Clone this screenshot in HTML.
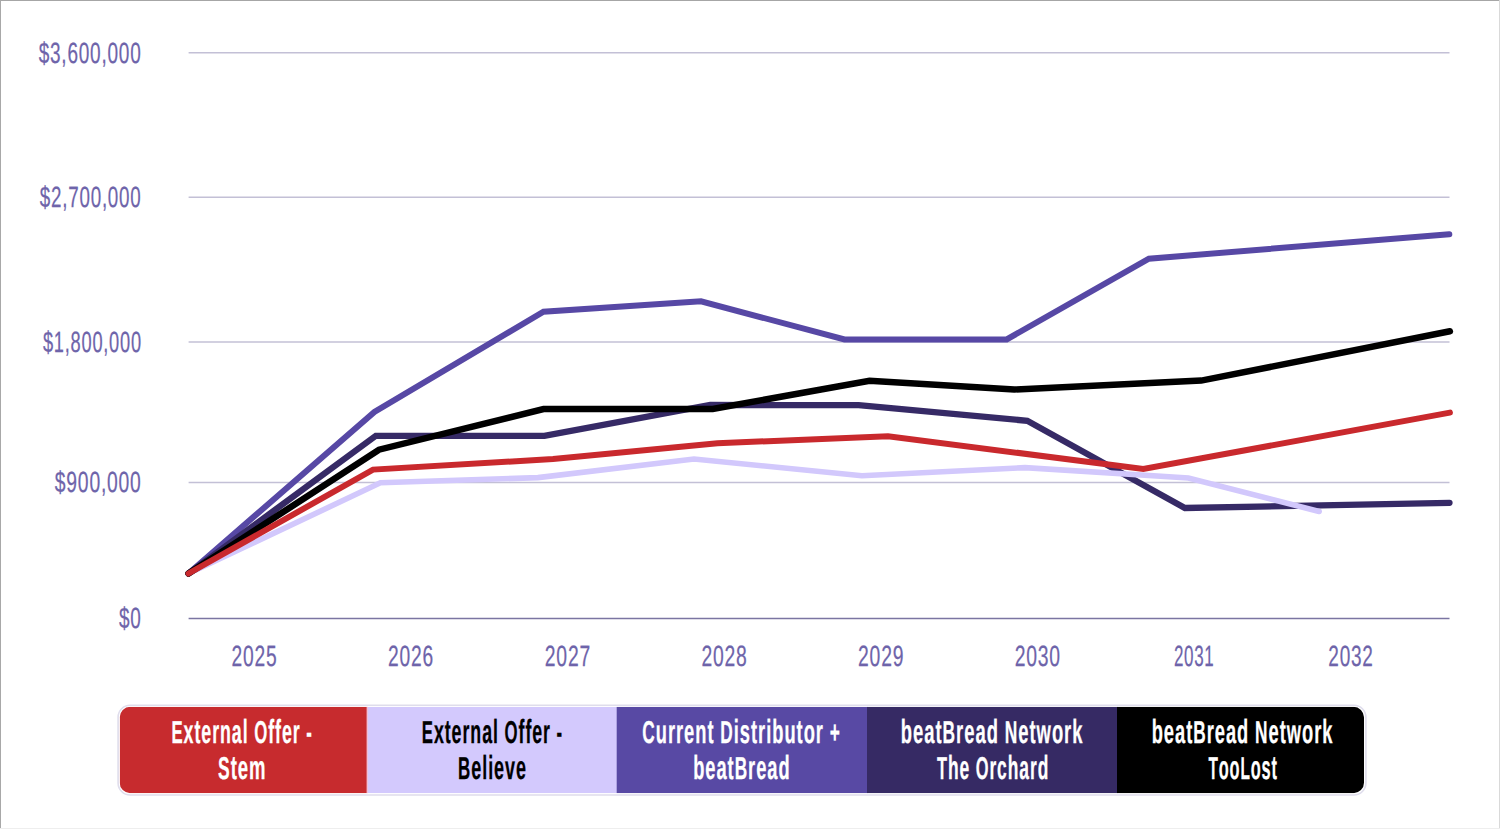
<!DOCTYPE html>
<html><head><meta charset="utf-8"><style>
html,body{margin:0;padding:0;background:#fff;}
body{width:1500px;height:829px;overflow:hidden;position:relative;}
svg{position:absolute;left:0;top:0;display:block;}
text{font-family:"Liberation Sans", sans-serif;text-rendering:geometricPrecision;}
.bt{position:absolute;left:0;top:0;width:1500px;height:1px;background:#a6a6a6;}
.bl{position:absolute;left:0;top:0;width:1px;height:829px;background:#a8a8a8;}
.br{position:absolute;right:0;top:0;width:1px;height:829px;background:#d9d9d9;}
.bb{position:absolute;left:0;bottom:0;width:1500px;height:1px;background:#eeeeee;}
</style></head><body>
<svg width="1500" height="829" viewBox="0 0 1500 829">
<rect x="0" y="0" width="1500" height="829" fill="#ffffff"/>
<line x1="188.6" y1="52.8" x2="1449.5" y2="52.8" stroke="#c3c0d6" stroke-width="1.5"/>
<line x1="188.6" y1="197.3" x2="1449.5" y2="197.3" stroke="#c3c0d6" stroke-width="1.5"/>
<line x1="188.6" y1="341.9" x2="1449.5" y2="341.9" stroke="#c3c0d6" stroke-width="1.5"/>
<line x1="188.6" y1="482.4" x2="1449.5" y2="482.4" stroke="#c3c0d6" stroke-width="1.5"/>
<line x1="188.6" y1="618.5" x2="1449.5" y2="618.5" stroke="#7b75a2" stroke-width="1.5"/>
<polyline points="188.5,573.5 374.4,411.9 543.5,311.7 701.0,301.3 844.5,339.4 1006.7,339.4 1148.9,258.7 1449.3,234.2" fill="none" stroke="#5748a5" stroke-width="6" stroke-linejoin="miter" stroke-linecap="round"/>
<polyline points="188.5,573.5 375.8,435.8 544.4,435.8 710.3,405.0 858.6,405.2 1027.3,420.8 1184.9,508.0 1449.5,502.8" fill="none" stroke="#362a66" stroke-width="6.3" stroke-linejoin="miter" stroke-linecap="round"/>
<polyline points="188.5,573.5 380.4,482.8 537.9,477.6 694.0,459.0 861.9,475.8 1025.0,467.6 1188.4,478.0 1319.2,511.5" fill="none" stroke="#d2c8fc" stroke-width="5.6" stroke-linejoin="miter" stroke-linecap="round"/>
<polyline points="188.5,573.5 379.0,449.7 543.5,409.0 712.7,409.0 869.5,380.8 1014.3,389.5 1201.2,380.6 1449.9,331.3" fill="none" stroke="#000000" stroke-width="6.5" stroke-linejoin="miter" stroke-linecap="round"/>
<polyline points="188.5,573.5 373.0,469.6 553.0,459.0 717.5,443.3 888.0,436.2 1143.3,469.0 1449.9,412.6" fill="none" stroke="#c9292d" stroke-width="6" stroke-linejoin="miter" stroke-linecap="round"/>
<g transform="translate(141.57 63.0) scale(0.6488 1)"><text text-anchor="end" font-size="29.3" letter-spacing="1.2" fill="#6e64aa" stroke="#6e64aa" stroke-width="0.25">$3,600,000</text></g>
<g transform="translate(141.51 207.0) scale(0.6408 1)"><text text-anchor="end" font-size="29.3" letter-spacing="1.2" fill="#6e64aa" stroke="#6e64aa" stroke-width="0.25">$2,700,000</text></g>
<g transform="translate(141.80 352.0) scale(0.6230 1)"><text text-anchor="end" font-size="29.3" letter-spacing="1.2" fill="#6e64aa" stroke="#6e64aa" stroke-width="0.25">$1,800,000</text></g>
<g transform="translate(141.65 492.0) scale(0.6588 1)"><text text-anchor="end" font-size="29.3" letter-spacing="1.2" fill="#6e64aa" stroke="#6e64aa" stroke-width="0.25">$900,000</text></g>
<g transform="translate(141.57 628.0) scale(0.6469 1)"><text text-anchor="end" font-size="29.3" letter-spacing="1.2" fill="#6e64aa" stroke="#6e64aa" stroke-width="0.25">$0</text></g>
<g transform="translate(254.56 666) scale(0.6566 1)"><text text-anchor="middle" font-size="29.3" letter-spacing="1.2" fill="#6e64aa" stroke="#6e64aa" stroke-width="0.25">2025</text></g>
<g transform="translate(411.00 666) scale(0.6552 1)"><text text-anchor="middle" font-size="29.3" letter-spacing="1.2" fill="#6e64aa" stroke="#6e64aa" stroke-width="0.25">2026</text></g>
<g transform="translate(567.88 666) scale(0.6600 1)"><text text-anchor="middle" font-size="29.3" letter-spacing="1.2" fill="#6e64aa" stroke="#6e64aa" stroke-width="0.25">2027</text></g>
<g transform="translate(724.49 666) scale(0.6600 1)"><text text-anchor="middle" font-size="29.3" letter-spacing="1.2" fill="#6e64aa" stroke="#6e64aa" stroke-width="0.25">2028</text></g>
<g transform="translate(881.14 666) scale(0.6600 1)"><text text-anchor="middle" font-size="29.3" letter-spacing="1.2" fill="#6e64aa" stroke="#6e64aa" stroke-width="0.25">2029</text></g>
<g transform="translate(1037.74 666) scale(0.6600 1)"><text text-anchor="middle" font-size="29.3" letter-spacing="1.2" fill="#6e64aa" stroke="#6e64aa" stroke-width="0.25">2030</text></g>
<g transform="translate(1194.23 666) scale(0.5796 1)"><text text-anchor="middle" font-size="29.3" letter-spacing="1.2" fill="#6e64aa" stroke="#6e64aa" stroke-width="0.25">2031</text></g>
<g transform="translate(1351.03 666) scale(0.6484 1)"><text text-anchor="middle" font-size="29.3" letter-spacing="1.2" fill="#6e64aa" stroke="#6e64aa" stroke-width="0.25">2032</text></g>
<rect x="118.10" y="705.20" width="1247.80" height="89.80" rx="12" ry="12" fill="none" stroke="#dfddec" stroke-width="1.6"/>
<clipPath id="lc"><rect x="119.7" y="706.8" width="1244.3" height="86.4" rx="10.5" ry="10.5"/></clipPath>
<g clip-path="url(#lc)">
<rect x="119.7" y="706.8" width="247.8" height="86.4" fill="#c72b2e"/>
<rect x="367.0" y="706.8" width="250.2" height="86.4" fill="#d3c9fd"/>
<rect x="616.7" y="706.8" width="250.8" height="86.4" fill="#5849a4"/>
<rect x="867.0" y="706.8" width="250.5" height="86.4" fill="#362a64"/>
<rect x="1117.0" y="706.8" width="247.5" height="86.4" fill="#000000"/>
<rect x="366.6" y="706.8" width="1.4" height="86.4" fill="#f0c0d8"/>
</g>
<g transform="translate(242.16 742.5) scale(0.5329 1)"><text text-anchor="middle" font-size="31.5" font-weight="bold" letter-spacing="1.8" fill="#ffffff" stroke="#ffffff" stroke-width="0.3">E<tspan font-size="33.39">xternal</tspan> O<tspan font-size="33.39">ffer</tspan> -</text></g>
<g transform="translate(242.30 779.0) scale(0.5542 1)"><text text-anchor="middle" font-size="31.5" font-weight="bold" letter-spacing="1.8" fill="#ffffff" stroke="#ffffff" stroke-width="0.3">S<tspan font-size="33.39">tem</tspan></text></g>
<g transform="translate(492.46 742.5) scale(0.5326 1)"><text text-anchor="middle" font-size="31.5" font-weight="bold" letter-spacing="1.8" fill="#000000" stroke="#000000" stroke-width="0.3">E<tspan font-size="33.39">xternal</tspan> O<tspan font-size="33.39">ffer</tspan> -</text></g>
<g transform="translate(492.48 779.0) scale(0.5367 1)"><text text-anchor="middle" font-size="31.5" font-weight="bold" letter-spacing="1.8" fill="#000000" stroke="#000000" stroke-width="0.3">B<tspan font-size="33.39">elieve</tspan></text></g>
<g transform="translate(741.51 742.5) scale(0.5481 1)"><text text-anchor="middle" font-size="31.5" font-weight="bold" letter-spacing="1.8" fill="#ffffff" stroke="#ffffff" stroke-width="0.3">C<tspan font-size="33.39">urrent</tspan> D<tspan font-size="33.39">istributor</tspan> +</text></g>
<g transform="translate(741.90 779.0) scale(0.5471 1)"><text text-anchor="middle" font-size="31.5" font-weight="bold" letter-spacing="1.8" fill="#ffffff" stroke="#ffffff" stroke-width="0.3"><tspan font-size="33.39">beat</tspan>B<tspan font-size="33.39">read</tspan></text></g>
<g transform="translate(992.13 742.5) scale(0.5511 1)"><text text-anchor="middle" font-size="31.5" font-weight="bold" letter-spacing="1.8" fill="#ffffff" stroke="#ffffff" stroke-width="0.3"><tspan font-size="33.39">beat</tspan>B<tspan font-size="33.39">read</tspan> N<tspan font-size="33.39">etwork</tspan></text></g>
<g transform="translate(993.12 779.0) scale(0.5214 1)"><text text-anchor="middle" font-size="31.5" font-weight="bold" letter-spacing="1.8" fill="#ffffff" stroke="#ffffff" stroke-width="0.3">T<tspan font-size="33.39">he</tspan> O<tspan font-size="33.39">rchard</tspan></text></g>
<g transform="translate(1242.52 742.5) scale(0.5482 1)"><text text-anchor="middle" font-size="31.5" font-weight="bold" letter-spacing="1.8" fill="#ffffff" stroke="#ffffff" stroke-width="0.3"><tspan font-size="33.39">beat</tspan>B<tspan font-size="33.39">read</tspan> N<tspan font-size="33.39">etwork</tspan></text></g>
<g transform="translate(1243.11 779.0) scale(0.4889 1)"><text text-anchor="middle" font-size="31.5" font-weight="bold" letter-spacing="1.8" fill="#ffffff" stroke="#ffffff" stroke-width="0.3">T<tspan font-size="33.39">oo</tspan>L<tspan font-size="33.39">ost</tspan></text></g>
</svg>
<div class="bt"></div><div class="bl"></div><div class="br"></div><div class="bb"></div>
</body></html>
